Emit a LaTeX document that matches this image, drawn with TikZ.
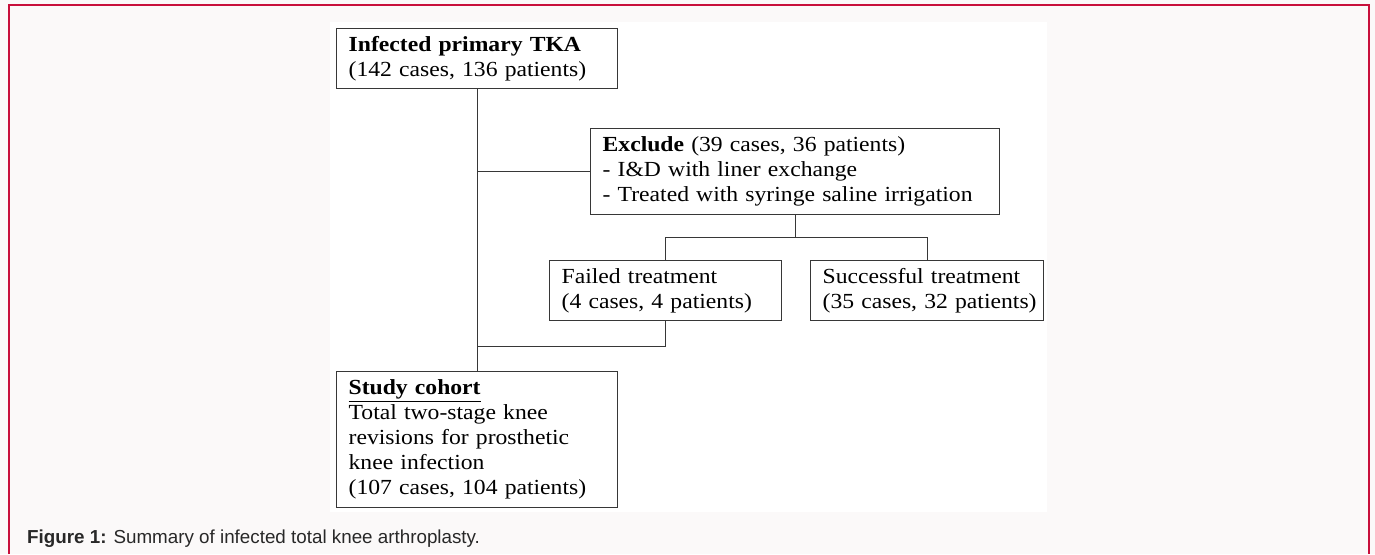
\documentclass[tikz,border=0pt]{standalone}
\usepackage{fontspec}
\setmainfont[FakeStretch=1.1]{Liberation Serif}
\newfontfamily\capfont{Liberation Sans}
\usetikzlibrary{calc}
\definecolor{framered}{RGB}{200,16,60}
\definecolor{bgpage}{RGB}{251,249,249}
\definecolor{linegray}{RGB}{55,55,55}
\definecolor{capgray}{RGB}{40,40,40}
\tikzset{
  box/.style={draw=linegray, line width=1.3pt, anchor=north west, inner xsep=12pt,
    inner ysep=0pt, align=left, font=\fontsize{21.5}{25}\selectfont, text=black,
    execute at begin node={\hyphenpenalty=10000\exhyphenpenalty=10000\hbadness=10000\hfuzz=20pt}},
  conn/.style={draw=linegray, line width=1.3pt}
}
\begin{document}
\begin{tikzpicture}[x=1pt,y=-1pt]
\useasboundingbox (0,0) rectangle (1375,554);
\fill[bgpage] (0,0) rectangle (1375,554);
\draw[framered, line width=2pt] (9,554) -- (9,5) -- (1369,5) -- (1369,554);
\fill[white] (330,22) rectangle (1047,512);

\node[box, text width=257pt, minimum height=60pt] (inf) at (336,28)
  {\textbf{Infected primary TKA}\\(142 cases, 136 patients)};
\node[box, text width=385pt, minimum height=86pt] (excl) at (590,128)
  {\textbf{Exclude} (39 cases, 36 patients)\\- I\&D with liner exchange\\- Treated with syringe saline irrigation};
\node[box, text width=208pt, minimum height=60pt] (fail) at (549,260)
  {Failed treatment\\(4 cases, 4 patients)};
\node[box, text width=209pt, minimum height=60pt] (succ) at (810,260)
  {Successful treatment\\\mbox{(35 cases, 32 patients)}};
\node[box, text width=257pt, minimum height=136pt] (study) at (336,371)
  {\textbf{\underline{Study cohort}}\\Total two-stage knee\\revisions for prosthetic\\knee infection\\(107 cases, 104 patients)};

\draw[conn] (inf.south) -- (study.north);
\draw[conn] (excl.west) -- (excl.west -| inf.south);
\coordinate (bus) at ($(excl.south)!.5!(excl.south |- fail.north)$);
\draw[conn] (excl.south) -- (bus);
\draw[conn] (fail.north) |- (bus) -| (succ.north);
\coordinate (ret) at ($(fail.south)!.5!(fail.south |- study.north)$);
\draw[conn] (fail.south) -- (ret) -- (ret -| inf.south);

\node[anchor=base west, inner sep=0pt, text=capgray,
  font=\capfont\fontsize{18.8}{22}\selectfont] (cap) at (27,543)
  {\textbf{Figure 1:} Summary of infected total knee arthroplasty.};
\end{tikzpicture}
\end{document}
